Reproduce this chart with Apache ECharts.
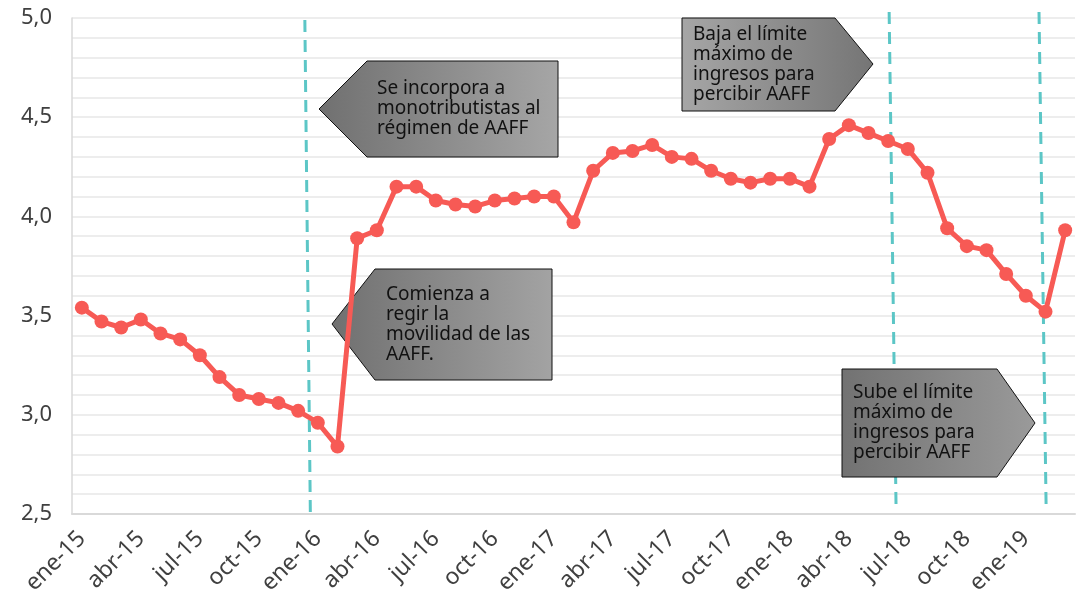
<!DOCTYPE html>
<html>
<head>
<meta charset="utf-8">
<script src="https://cdn.jsdelivr.net/npm/echarts@6/dist/echarts.min.js"></script>
<style>
  html, body { margin: 0; padding: 0; background: #fff; }
  #main { width: 1079px; height: 600px; }
</style>
</head>
<body>
<div id="main"></div>
<script>
let mychart = echarts.init(document.getElementById('main'));

let months = [
    'ene-15', 'feb-15', 'mar-15', 'abr-15', 'may-15', 'jun-15', 'jul-15', 'ago-15', 'sep-15', 'oct-15', 'nov-15', 'dic-15',
    'ene-16', 'feb-16', 'mar-16', 'abr-16', 'may-16', 'jun-16', 'jul-16', 'ago-16', 'sep-16', 'oct-16', 'nov-16', 'dic-16',
    'ene-17', 'feb-17', 'mar-17', 'abr-17', 'may-17', 'jun-17', 'jul-17', 'ago-17', 'sep-17', 'oct-17', 'nov-17', 'dic-17',
    'ene-18', 'feb-18', 'mar-18', 'abr-18', 'may-18', 'jun-18', 'jul-18', 'ago-18', 'sep-18', 'oct-18', 'nov-18', 'dic-18',
    'ene-19', 'feb-19', 'mar-19'
]

let values = [
    3.54, 3.47, 3.44, 3.48, 3.41, 3.38, 3.30, 3.19, 3.10, 3.08, 3.06, 3.02,
    2.96, 2.84, 3.89, 3.93, 4.15, 4.15, 4.08, 4.06, 4.05, 4.08, 4.09, 4.10,
    4.10, 3.97, 4.23, 4.32, 4.33, 4.36, 4.30, 4.29, 4.23, 4.19, 4.17, 4.19,
    4.19, 4.15, 4.39, 4.46, 4.42, 4.38, 4.34, 4.22, 3.94, 3.85, 3.83, 3.71,
    3.60, 3.52, 3.93
]

// event markers: [month index, value] at top and bottom (drawn slightly slanted like the original)
let eventLines = [
    [[11.34, 4.99], [11.62, 2.5]],
    [[41.05, 5.03], [41.40, 2.545]],
    [[48.67, 5.03], [49.03, 2.545]]
]

let notes = [
    'Se incorpora a\nmonotributistas al\nrégimen de AAFF',
    'Comienza a\nregir la\nmovilidad de las\nAAFF.',
    'Baja el límite\nmáximo de\ningresos para\npercibir AAFF',
    'Sube el límite\nmáximo de\ningresos para\npercibir AAFF'
]

let font = '"Noto Sans", "Open Sans", sans-serif'

// callout boxes (pixel layout)
let boxes = [
    { pts: [[319, 109], [367, 61], [558, 61], [558, 157], [367, 157]], tx: 377, ty: 79, c: ['#707070', '#a6a6a6'] },
    { pts: [[332, 324], [375, 269], [552, 269], [552, 380], [375, 380]], tx: 386, ty: 285, c: ['#707070', '#a3a3a3'] },
    { pts: [[682, 18], [835, 18], [873, 64], [835, 111], [682, 111]], tx: 693, ty: 25, c: ['#a6a6a6', '#757575'] },
    { pts: [[842, 369], [997, 369], [1035, 423], [997, 477], [842, 477]], tx: 853, ty: 383, c: ['#727272', '#9a9a9a'] }
]

let graphics = []
boxes.forEach(function (b, i) {
    graphics.push({
        type: 'polygon',
        z: 3,
        shape: { points: b.pts },
        style: {
            fill: new echarts.graphic.LinearGradient(0, 0, 1, 0, [
                { offset: 0, color: b.c[0] },
                { offset: 1, color: b.c[1] }
            ]),
            stroke: '#111',
            lineWidth: 1
        }
    })
    graphics.push({
        type: 'text',
        z: 3,
        x: b.tx,
        y: b.ty,
        style: {
            text: notes[i],
            font: '19px ' + font,
            fill: '#111',
            lineHeight: 20,
            verticalAlign: 'top'
        }
    })
})

let eventSeries = eventLines.map(function (pts) {
    return {
        type: 'line',
        xAxisIndex: 1,
        data: pts,
        symbol: 'none',
        clip: false,
        silent: true,
        z: 2,
        lineStyle: { color: '#5cc6c6', width: 3, type: [12, 8] }
    }
})

let option = {
    animation: false,
    grid: { left: 72, right: 4, top: 18, bottom: 86 },
    xAxis: [{
        type: 'category',
        data: months,
        boundaryGap: true,
        axisLine: { onZero: false, lineStyle: { color: '#d9d9d9', width: 2 } },
        axisTick: { interval: 2, length: 6, lineStyle: { color: '#d9d9d9', width: 1.5 } },
        axisLabel: {
            interval: 2,
            rotate: 45,
            margin: 21,
            color: '#404040',
            fontSize: 23,
            fontFamily: font
        },
        splitLine: { show: false }
    }, {
        type: 'value',
        min: -0.5,
        max: 50.5,
        show: false
    }],
    yAxis: {
        type: 'value',
        min: 2.5,
        max: 5,
        interval: 0.5,
        axisLine: { show: true, onZero: false, lineStyle: { color: '#d9d9d9', width: 1.5 } },
        axisTick: { show: false },
        axisLabel: {
            margin: 20,
            color: '#404040',
            fontSize: 22,
            fontFamily: font,
            formatter: function (v) { return v.toFixed(1).replace('.', ','); }
        },
        splitLine: { lineStyle: { color: '#ededed', width: 2 } },
        minorTick: { show: false, splitNumber: 5 },
        minorSplitLine: { show: true, lineStyle: { color: '#ededed', width: 2 } }
    },
    graphic: graphics,
    series: [{
        type: 'line',
        data: values,
        z: 4,
        symbol: 'circle',
        symbolSize: 14,
        showAllSymbol: true,
        lineStyle: { color: '#f75a55', width: 5 },
        itemStyle: { color: '#f75a55' }
    }].concat(eventSeries)
};
mychart.setOption(option);
</script>
</body>
</html>
